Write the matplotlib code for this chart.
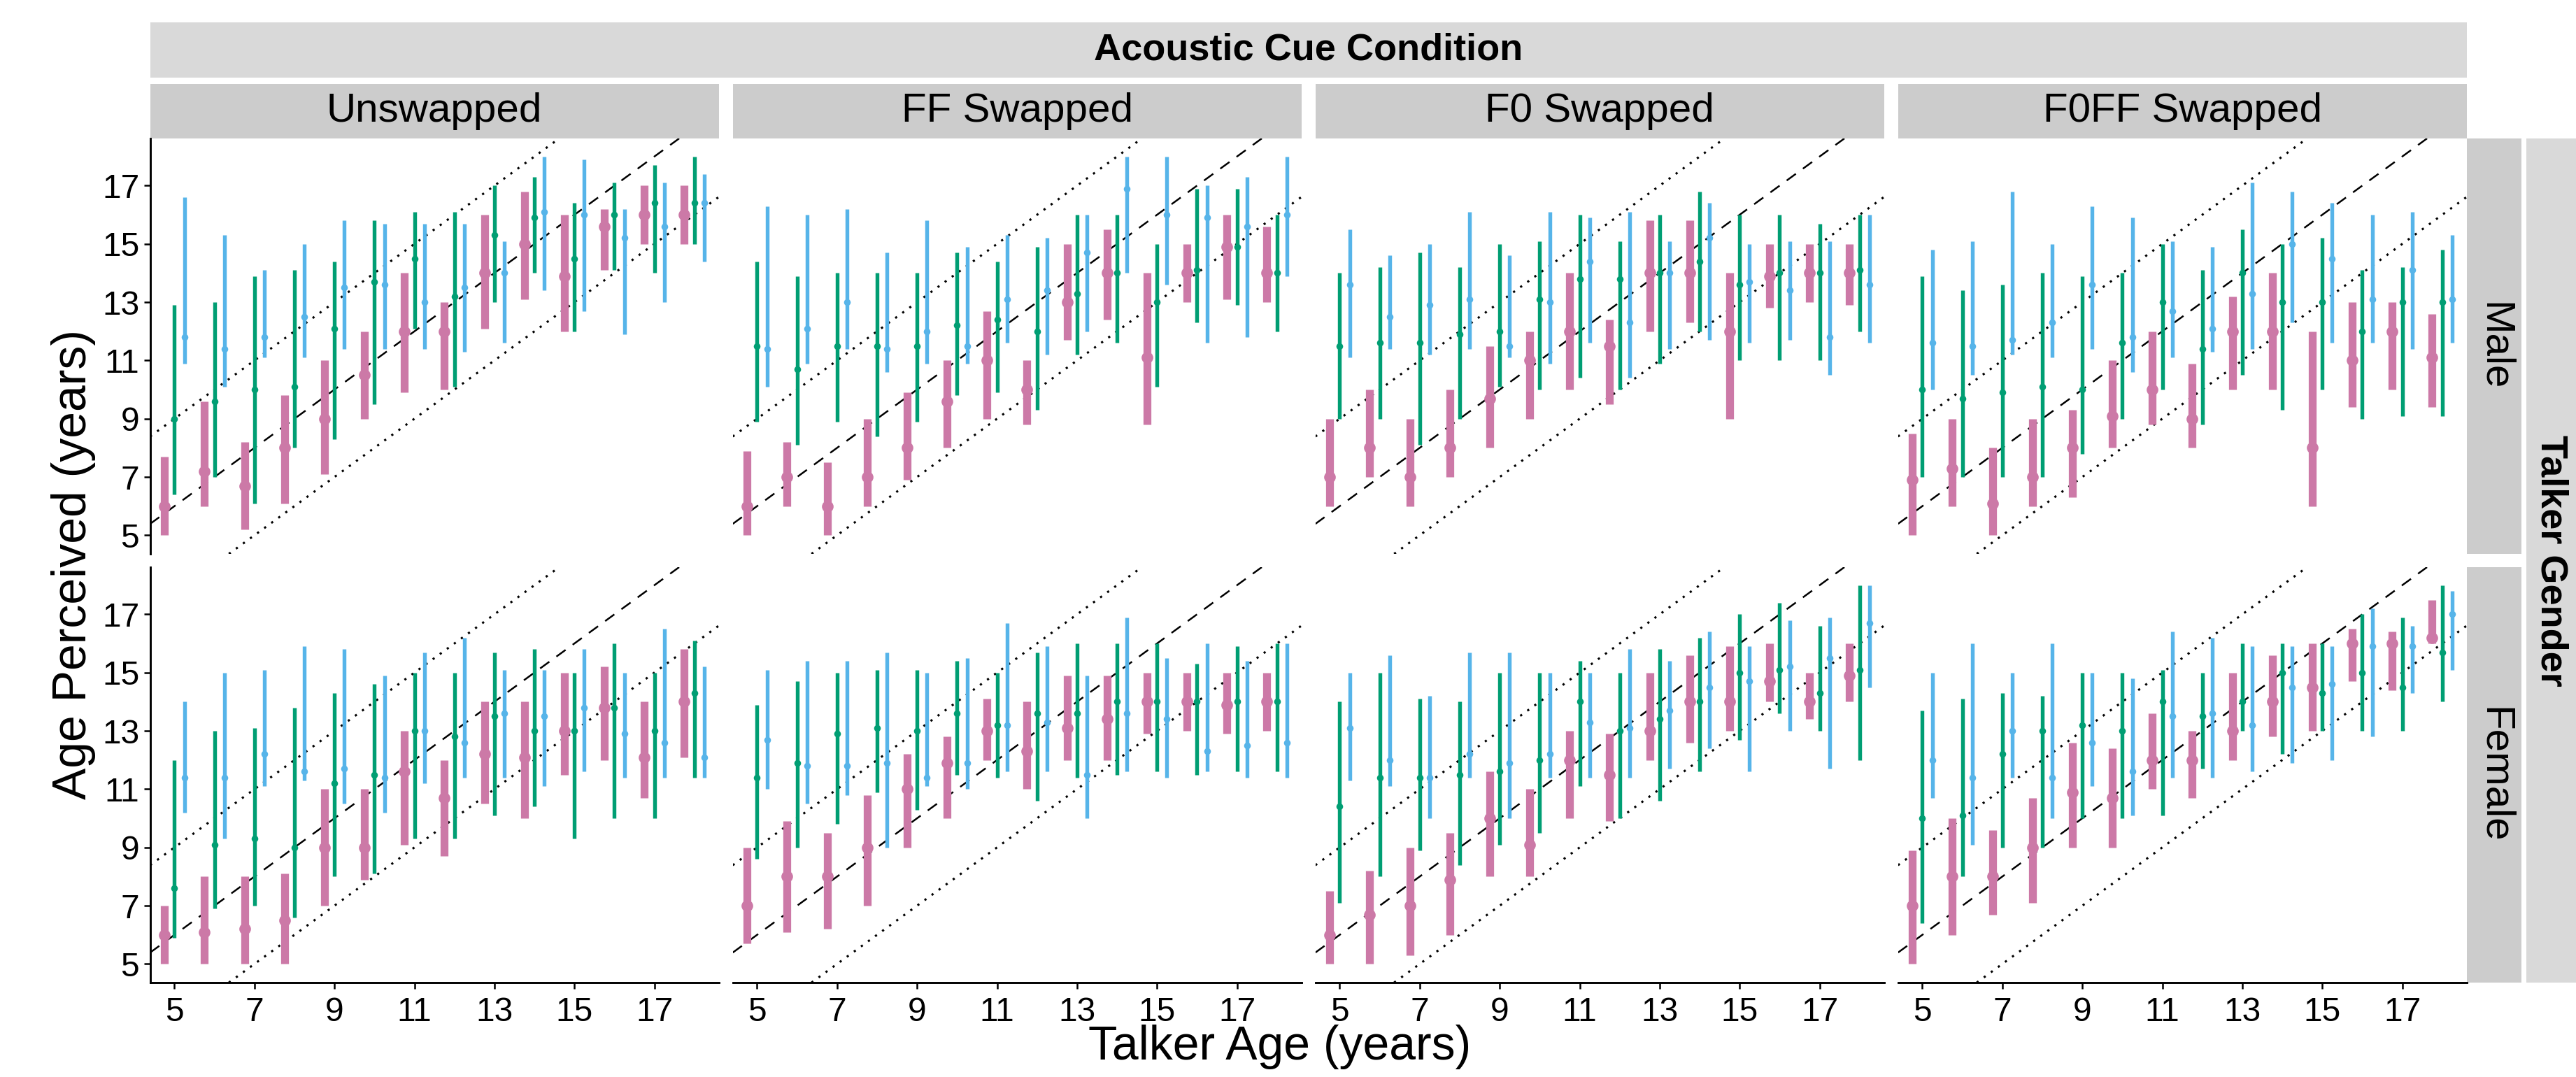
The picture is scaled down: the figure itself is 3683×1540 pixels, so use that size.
import matplotlib
matplotlib.use("Agg")
import matplotlib.pyplot as plt
from matplotlib.patches import Rectangle

plt.rcParams["font.family"] = ["Liberation Sans", "DejaVu Sans"]

# ───────────────────────────── data ─────────────────────────────
AGES = [5, 6, 7, 8, 9, 10, 11, 12, 13, 14, 15, 16, 17, 18]
X_TICKS = [5, 7, 9, 11, 13, 15, 17]
Y_TICKS = [5, 7, 9, 11, 13, 15, 17]
CONDITIONS = ["Unswapped", "FF Swapped", "F0 Swapped", "F0FF Swapped"]
GENDERS = ["Male", "Female"]

# each series: [median], [lower], [upper]
unswapped_male_pink = [
    [6.0, 7.2, 6.7, 8.0, 9.0, 10.5, 12.0, 12.0, 14.0, 15.0, 13.9, 15.6, 16.0, 16.0],
    [5.0, 6.0, 5.2, 6.1, 7.1, 9.0, 9.9, 10.0, 12.1, 13.1, 12.0, 14.1, 15.0, 15.0],
    [7.7, 9.6, 8.2, 9.8, 11.0, 12.0, 14.0, 13.0, 16.0, 16.8, 16.0, 16.2, 17.0, 17.0]]
unswapped_male_green = [
    [9.0, 9.6, 10.0, 10.1, 12.1, 13.7, 14.5, 13.2, 15.3, 15.9, 14.5, 16.0, 16.4, 16.4],
    [6.4, 7.0, 6.1, 8.0, 8.3, 9.5, 12.1, 10.1, 13.0, 14.0, 12.0, 14.1, 14.0, 15.0],
    [12.9, 13.0, 13.9, 14.1, 14.4, 15.8, 16.1, 16.1, 17.0, 17.3, 16.4, 17.1, 17.7, 18.0]]
unswapped_male_blue = [
    [11.8, 11.4, 11.8, 12.5, 13.5, 13.6, 13.0, 13.5, 14.0, 16.1, 16.0, 15.2, 15.6, 16.4],
    [10.9, 10.1, 11.1, 11.1, 11.4, 11.4, 11.4, 11.3, 11.6, 13.4, 12.7, 11.9, 13.0, 14.4],
    [16.6, 15.3, 14.1, 15.0, 15.8, 15.7, 15.7, 15.7, 15.1, 18.0, 17.9, 16.2, 17.1, 17.4]]

unswapped_female_pink = [
    [6.0, 6.1, 6.2, 6.5, 9.0, 9.0, 11.6, 10.7, 12.2, 12.1, 13.0, 13.8, 12.1, 14.0],
    [5.0, 5.0, 5.0, 5.0, 7.0, 7.9, 9.1, 8.7, 10.5, 10.0, 11.5, 12.0, 10.7, 12.1],
    [7.0, 8.0, 8.0, 8.1, 11.0, 11.0, 13.0, 12.0, 14.0, 14.0, 15.0, 15.2, 14.0, 15.8]]
unswapped_female_green = [
    [7.6, 9.1, 9.3, 9.0, 11.2, 11.5, 13.0, 12.8, 13.5, 13.0, 13.0, 13.8, 13.0, 14.3],
    [5.9, 6.9, 7.0, 6.6, 8.0, 8.1, 9.3, 9.3, 10.1, 10.4, 9.3, 10.0, 10.0, 11.4],
    [12.0, 13.0, 13.1, 13.8, 14.3, 14.6, 15.0, 15.0, 15.7, 15.8, 15.0, 16.0, 15.0, 16.1]]
unswapped_female_blue = [
    [11.4, 11.4, 12.2, 11.6, 11.7, 11.4, 13.0, 12.6, 13.6, 13.5, 13.8, 12.9, 12.6, 12.1],
    [10.2, 9.3, 11.1, 11.3, 10.5, 10.2, 11.2, 11.4, 11.4, 11.1, 11.6, 11.4, 11.4, 11.4],
    [14.0, 15.0, 15.1, 15.9, 15.8, 14.9, 15.7, 16.2, 15.1, 15.1, 15.8, 15.0, 16.5, 15.2]]

ff_male_pink = [
    [6.0, 7.0, 6.0, 7.0, 8.0, 9.6, 11.0, 10.0, 13.0, 14.0, 11.1, 14.0, 14.9, 14.0],
    [5.0, 6.0, 5.0, 6.0, 6.9, 8.0, 9.0, 8.8, 11.7, 12.4, 8.8, 13.0, 13.1, 13.0],
    [7.9, 8.2, 7.5, 9.0, 9.9, 11.0, 12.7, 11.0, 15.0, 15.5, 14.0, 15.0, 16.0, 15.6]]
ff_male_green = [
    [11.5, 10.7, 11.5, 11.5, 11.5, 12.2, 12.4, 12.0, 13.3, 14.0, 13.0, 14.1, 14.9, 14.0],
    [8.9, 8.1, 8.9, 8.4, 8.9, 9.8, 9.9, 9.3, 11.2, 11.6, 10.1, 12.3, 12.9, 12.0],
    [14.4, 13.9, 14.0, 14.0, 14.0, 14.7, 14.4, 14.9, 16.0, 16.0, 15.0, 16.9, 16.9, 16.0]]
ff_male_blue = [
    [11.4, 12.1, 13.0, 11.4, 12.0, 11.5, 13.1, 13.4, 14.7, 16.9, 16.0, 15.9, 15.6, 16.0],
    [10.1, 10.9, 11.4, 10.6, 10.9, 10.9, 11.6, 11.2, 12.0, 14.0, 13.6, 11.6, 11.8, 13.9],
    [16.3, 16.0, 16.2, 14.7, 15.8, 14.9, 15.3, 15.2, 16.0, 18.0, 18.0, 17.0, 17.3, 18.0]]

ff_female_pink = [
    [7.0, 8.0, 8.0, 9.0, 11.0, 11.9, 13.0, 12.3, 13.1, 13.4, 14.0, 14.0, 13.9, 14.0],
    [5.7, 6.1, 6.2, 7.0, 9.0, 10.0, 12.0, 11.0, 12.0, 12.0, 12.9, 13.0, 12.9, 13.0],
    [9.0, 9.9, 9.5, 10.8, 12.2, 12.8, 14.1, 14.0, 14.9, 14.9, 15.0, 15.0, 15.0, 15.0]]
ff_female_green = [
    [11.4, 11.9, 12.9, 13.1, 13.0, 13.6, 13.2, 13.6, 13.6, 14.0, 14.0, 14.0, 14.0, 14.0],
    [8.6, 9.0, 9.8, 10.9, 10.3, 11.5, 11.4, 10.6, 11.4, 11.5, 11.6, 11.5, 11.6, 11.6],
    [13.9, 14.7, 15.0, 15.1, 15.1, 15.4, 15.0, 15.7, 16.0, 16.0, 16.0, 15.3, 15.9, 16.0]]
ff_female_blue = [
    [12.7, 11.8, 11.8, 11.9, 11.4, 11.9, 13.2, 13.3, 11.5, 13.6, 13.4, 12.3, 12.5, 12.6],
    [11.0, 10.5, 10.8, 9.0, 11.1, 11.0, 11.6, 11.6, 10.0, 11.6, 11.4, 11.6, 11.4, 11.4],
    [15.1, 15.4, 15.4, 15.7, 15.0, 15.5, 16.7, 15.9, 14.9, 16.9, 15.5, 16.0, 15.4, 16.0]]

f0_male_pink = [
    [7.0, 8.0, 7.0, 8.0, 9.7, 11.0, 12.0, 11.5, 14.0, 14.0, 12.0, 13.9, 14.0, 14.0],
    [6.0, 7.0, 6.0, 7.0, 8.0, 9.0, 10.0, 9.5, 12.0, 12.3, 9.0, 12.8, 13.0, 12.9],
    [9.0, 10.0, 9.0, 10.0, 11.5, 12.0, 14.0, 12.4, 15.8, 15.8, 14.0, 15.0, 15.0, 15.0]]
f0_male_green = [
    [11.5, 11.6, 11.6, 11.9, 12.0, 13.1, 13.8, 13.8, 14.0, 14.4, 13.6, 14.0, 14.0, 14.1],
    [9.0, 9.0, 8.1, 9.0, 10.1, 10.0, 10.4, 10.0, 10.9, 12.0, 11.0, 11.0, 11.0, 12.0],
    [14.0, 14.2, 14.7, 14.2, 15.0, 15.1, 16.0, 15.1, 16.0, 16.8, 16.0, 16.0, 15.7, 16.0]]
f0_male_blue = [
    [13.6, 12.5, 12.9, 13.1, 11.5, 13.0, 14.4, 12.3, 14.0, 15.2, 13.7, 13.4, 11.8, 13.6],
    [11.1, 11.4, 11.2, 11.4, 11.1, 10.9, 11.6, 10.4, 11.4, 11.7, 11.6, 11.7, 10.5, 11.6],
    [15.5, 14.6, 15.0, 16.1, 14.6, 16.1, 15.9, 16.1, 15.1, 16.4, 15.0, 15.1, 15.1, 16.0]]

f0_female_pink = [
    [6.0, 6.7, 7.0, 7.9, 10.0, 9.1, 12.0, 11.5, 13.0, 14.0, 14.0, 14.7, 14.0, 14.9],
    [5.0, 5.0, 5.3, 6.0, 8.0, 8.0, 10.0, 9.9, 12.0, 12.6, 13.0, 14.0, 13.4, 14.0],
    [7.5, 8.2, 9.0, 9.5, 11.6, 11.0, 13.0, 12.9, 15.0, 15.6, 15.9, 16.0, 15.0, 16.0]]
f0_female_green = [
    [10.4, 11.4, 11.4, 11.5, 11.6, 12.0, 14.0, 13.0, 13.4, 14.0, 15.0, 15.1, 14.3, 15.1],
    [7.1, 8.0, 8.9, 8.4, 9.1, 9.5, 11.1, 10.0, 10.6, 11.6, 12.7, 13.6, 13.0, 12.0],
    [14.0, 15.0, 14.1, 14.0, 15.0, 15.0, 15.4, 15.0, 15.8, 16.2, 17.0, 17.4, 16.6, 18.0]]
f0_female_blue = [
    [13.1, 12.0, 11.4, 12.2, 11.9, 12.2, 13.3, 13.1, 13.7, 14.5, 14.7, 15.2, 15.5, 16.7],
    [11.3, 11.1, 10.0, 11.4, 10.0, 11.4, 11.4, 11.4, 11.7, 12.4, 11.6, 13.0, 11.7, 14.5],
    [15.0, 15.6, 14.2, 15.7, 15.7, 15.0, 15.0, 15.8, 15.4, 16.4, 15.9, 16.8, 16.9, 18.0]]

f0ff_male_pink = [
    [6.9, 7.3, 6.1, 7.0, 8.0, 9.1, 10.0, 9.0, 12.0, 12.0, 8.0, 11.0, 12.0, 11.1],
    [5.0, 6.0, 5.0, 6.0, 6.3, 8.0, 8.8, 8.0, 10.0, 10.0, 6.0, 9.4, 10.0, 9.4],
    [8.5, 9.0, 8.0, 9.0, 9.3, 11.0, 12.0, 10.9, 13.2, 14.0, 12.0, 13.0, 13.0, 12.6]]
f0ff_male_green = [
    [10.0, 9.7, 9.9, 10.1, 10.0, 11.6, 13.0, 11.4, 14.0, 13.0, 13.0, 12.0, 13.0, 13.0],
    [7.0, 7.0, 7.0, 7.0, 7.8, 9.0, 10.0, 8.8, 10.5, 9.3, 10.0, 9.0, 9.1, 9.1],
    [13.9, 13.4, 13.6, 14.0, 13.9, 14.0, 15.0, 14.1, 15.5, 15.0, 15.2, 14.1, 14.2, 14.8]]
f0ff_male_blue = [
    [11.6, 11.5, 11.7, 12.3, 13.6, 11.8, 12.7, 12.1, 13.3, 15.0, 14.5, 13.1, 14.1, 13.1],
    [10.0, 10.5, 11.2, 11.1, 11.4, 10.6, 11.1, 11.3, 11.4, 12.3, 11.6, 11.6, 11.4, 11.6],
    [14.8, 15.1, 16.8, 15.0, 16.3, 15.9, 15.1, 14.9, 17.1, 16.8, 16.4, 16.0, 16.1, 15.3]]

f0ff_female_pink = [
    [7.0, 8.0, 8.0, 9.0, 10.9, 10.7, 12.0, 12.0, 13.0, 14.0, 14.5, 16.0, 16.0, 16.2],
    [5.0, 6.0, 6.7, 7.1, 9.0, 9.0, 11.0, 10.7, 12.0, 12.8, 13.0, 14.7, 14.4, 16.0],
    [8.9, 10.0, 9.6, 10.7, 12.6, 12.4, 13.6, 13.0, 15.0, 15.6, 16.0, 16.5, 16.4, 17.5]]
f0ff_female_green = [
    [10.0, 10.1, 12.2, 13.0, 13.2, 13.0, 14.0, 13.5, 14.0, 15.0, 14.3, 15.0, 14.5, 15.7],
    [6.4, 8.0, 9.0, 9.0, 10.0, 10.0, 10.1, 11.7, 13.0, 12.2, 13.0, 13.0, 13.0, 14.0],
    [13.7, 14.1, 14.3, 14.2, 15.0, 15.0, 15.1, 15.0, 16.0, 16.0, 16.0, 17.0, 16.9, 18.0]]
f0ff_female_blue = [
    [12.0, 11.4, 13.0, 11.4, 12.6, 11.6, 13.5, 13.6, 13.2, 14.5, 14.6, 15.9, 15.9, 17.0],
    [10.7, 9.1, 11.4, 10.0, 11.1, 10.1, 11.4, 11.4, 11.6, 11.9, 12.0, 12.8, 14.3, 15.1],
    [15.0, 16.0, 15.0, 16.0, 15.0, 14.8, 16.4, 16.2, 15.9, 15.9, 15.9, 17.2, 16.6, 17.8]]

PANELS = {
    ("Unswapped", "Male"): (unswapped_male_pink, unswapped_male_green, unswapped_male_blue),
    ("Unswapped", "Female"): (unswapped_female_pink, unswapped_female_green, unswapped_female_blue),
    ("FF Swapped", "Male"): (ff_male_pink, ff_male_green, ff_male_blue),
    ("FF Swapped", "Female"): (ff_female_pink, ff_female_green, ff_female_blue),
    ("F0 Swapped", "Male"): (f0_male_pink, f0_male_green, f0_male_blue),
    ("F0 Swapped", "Female"): (f0_female_pink, f0_female_green, f0_female_blue),
    ("F0FF Swapped", "Male"): (f0ff_male_pink, f0ff_male_green, f0ff_male_blue),
    ("F0FF Swapped", "Female"): (f0ff_female_pink, f0ff_female_green, f0ff_female_blue),
}

# ─────────────────────────── styling ────────────────────────────
COLORS = ["#CC79A7", "#009E73", "#56B4E9"]
OFFSETS = [-0.25, 0.0, 0.25]
BAR_LW = [2.7, 1.3, 1.3]
DOT_MS = [4.0, 2.3, 2.3]

W, H = 3683, 1540
DPI = 300
fig = plt.figure(figsize=(W / DPI, H / DPI), dpi=DPI)


def frac(x0, y0, x1, y1):
    """pixel box (top-left origin) -> figure fraction rect"""
    return [x0 / W, 1 - y1 / H, (x1 - x0) / W, (y1 - y0) / H]


def strip(x0, y0, x1, y1, color, text, rot=0, weight="normal", size=14):
    fig.add_artist(Rectangle((x0 / W, 1 - y1 / H), (x1 - x0) / W, (y1 - y0) / H,
                             transform=fig.transFigure, facecolor=color,
                             edgecolor="none", zorder=0))
    fig.text((x0 + x1) / 2 / W, 1 - (y0 + y1) / 2 / H, text, rotation=rot,
             ha="center", va="center", fontsize=size, fontweight=weight)


PANEL_X0 = 214.6
PANEL_W = 813
PANEL_STEP = 833
PANEL_X1 = PANEL_X0 + 3 * PANEL_STEP + PANEL_W
ROWS = [(198, 792), (811, 1405)]

for ci, cond in enumerate(CONDITIONS):
    x0 = PANEL_X0 + ci * PANEL_STEP
    x1 = x0 + PANEL_W
    strip(x0, 120, x1, 198, "#CCCCCC", cond, size=14)
    for ri, gender in enumerate(GENDERS):
        y0, y1 = ROWS[ri]
        ax = fig.add_axes(frac(x0, y0, x1, y1))
        ax.set_xlim(4.39, 18.61)
        ax.set_ylim(4.36, 18.62)

        # reference lines: y = x + 1 and a +/- 3 year band
        ax.axline((0, 1), slope=1, color="black", lw=0.6, ls=(0, (6.5, 5)), zorder=1)
        ax.axline((0, 4), slope=1, color="black", lw=0.75, ls=(0, (1, 3)), zorder=1)
        ax.axline((0, -2), slope=1, color="black", lw=0.75, ls=(0, (1, 3)), zorder=1)

        for si, series in enumerate(PANELS[(cond, gender)]):
            med, lo, hi = series
            xs = [a + OFFSETS[si] for a in AGES]
            ax.vlines(xs, lo, hi, color=COLORS[si], lw=BAR_LW[si], zorder=3,
                      capstyle="butt")
            ax.plot(xs, med, "o", color=COLORS[si], ms=DOT_MS[si], mew=0, zorder=4)

        for side in ["top", "right"]:
            ax.spines[side].set_visible(False)
        ax.spines["left"].set_visible(ci == 0)
        ax.spines["bottom"].set_visible(ri == 1)
        for side in ["left", "bottom"]:
            ax.spines[side].set_linewidth(0.7)

        ax.set_xticks(X_TICKS)
        ax.set_yticks(Y_TICKS)
        ax.tick_params(length=2.2, width=0.6, labelsize=11.5, colors="black")
        ax.tick_params(axis="x", pad=2.5)
        ax.tick_params(axis="y", pad=1.5)
        if ci != 0:
            ax.tick_params(axis="y", left=False, labelleft=False)
        if ri != 1:
            ax.tick_params(axis="x", bottom=False, labelbottom=False)

# column super-strip
strip(PANEL_X0, 32, PANEL_X1, 111, "#D9D9D9",
      "Acoustic Cue Condition", weight="bold", size=13)

# row strips
for ri, gender in enumerate(GENDERS):
    y0, y1 = ROWS[ri]
    strip(3527, y0, 3605, y1, "#CCCCCC", gender, rot=270, size=14)
strip(3612, ROWS[0][0], 3683, ROWS[1][1], "#D9D9D9", "Talker Gender",
      rot=270, weight="bold", size=13)

# axis titles
fig.text(1830 / W, 1 - 1497 / H, "Talker Age (years)",
         ha="center", va="center", fontsize=16.3)
fig.text(105 / W, 1 - 807 / H, "Age Perceived (years)", rotation=90,
         ha="center", va="center", fontsize=16.3)

fig.savefig("out.png", dpi=DPI)
